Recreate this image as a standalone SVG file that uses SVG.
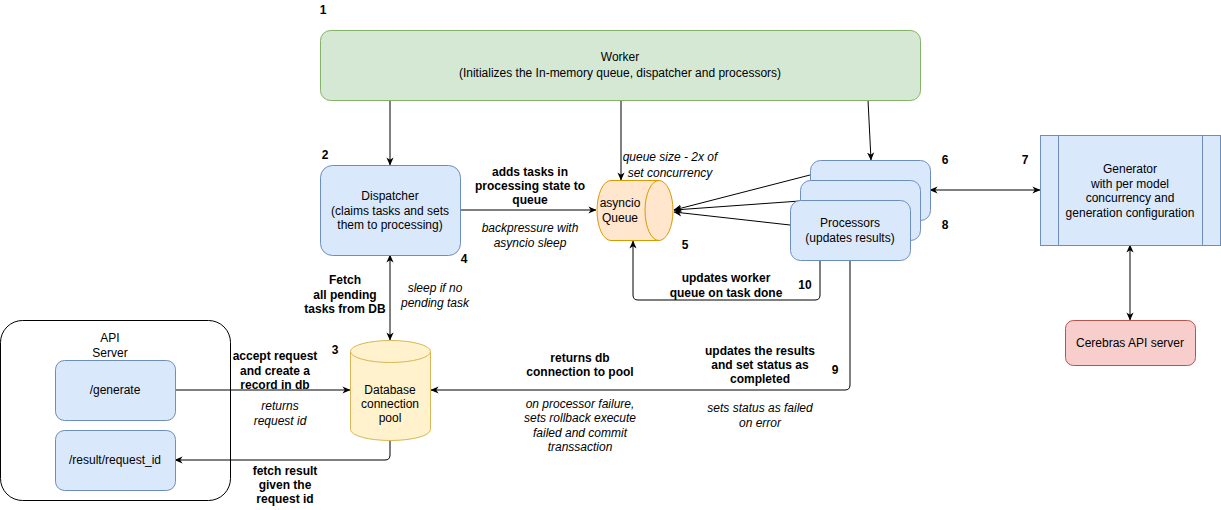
<svg xmlns="http://www.w3.org/2000/svg" width="1221" height="510" viewBox="0 0 1221 510">
<style>
text{font-family:"Liberation Sans",Arial,Helvetica,sans-serif;font-size:12px;fill:#000;text-anchor:middle}
.b{font-weight:bold}
.i{font-style:italic}
.num{font-weight:bold;font-size:12px}
.blue{fill:#dae8fc;stroke:#6c8ebf;stroke-width:1}
.green{fill:#d5e8d4;stroke:#82b366;stroke-width:1}
.orange{fill:#ffe6cc;stroke:#d79b00;stroke-width:1}
.yellow{fill:#fff2cc;stroke:#d6b656;stroke-width:1}
.red{fill:#f8cecc;stroke:#b85450;stroke-width:1}
.edge{fill:none;stroke:#000;stroke-width:1}
</style>
<defs>
<marker id="arr" viewBox="0 0 10 10" refX="9.5" refY="5" markerWidth="8" markerHeight="8" markerUnits="userSpaceOnUse" orient="auto-start-reverse">
<path d="M0,0.5 L10,5 L0,9.5 L3,5 Z" fill="#000"/>
</marker>
</defs>
<rect width="1221" height="510" fill="#fff"/>

<g id="api-server">
<rect x="0.5" y="320.5" width="230" height="180" rx="22" ry="22" fill="none" stroke="#000" stroke-width="1"/>
<text x="110" y="342">API</text>
<text x="110" y="357">Server</text>
</g>

<g id="connectors">
<path class="edge" d="M390,100 L390,165" marker-end="url(#arr)"/>
<path class="edge" d="M621,100 L621,180" marker-end="url(#arr)"/>
<path class="edge" d="M868,100 L871,160" marker-end="url(#arr)"/>
<path class="edge" d="M461,210 L596,210" marker-end="url(#arr)"/>
<path class="edge" d="M390,255 L390,340" marker-start="url(#arr)" marker-end="url(#arr)"/>
<path class="edge" d="M175,390 L350,390" marker-end="url(#arr)"/>
<path class="edge" d="M390,440 L390,455 Q390,460 385,460 L175,460" marker-end="url(#arr)"/>
<path class="edge" d="M810,175 L674,210" marker-end="url(#arr)"/>
<path class="edge" d="M800,201 L674,210" marker-end="url(#arr)"/>
<path class="edge" d="M790,225 L674,212" marker-end="url(#arr)"/>
<path class="edge" d="M930,190 L1040,190" marker-start="url(#arr)" marker-end="url(#arr)"/>
<path class="edge" d="M1130,245 L1130,320" marker-start="url(#arr)" marker-end="url(#arr)"/>
<path class="edge" d="M820,260 L820,295 Q820,300 815,300 L638,300 Q633,300 633,295 L633,241" marker-end="url(#arr)"/>
<path class="edge" d="M850,260 L850,385 Q850,390 845,390 L431,390" marker-end="url(#arr)"/>
</g>

<g id="worker">
<rect class="green" x="320.5" y="30.5" width="600" height="70" rx="10" ry="10"/>
<text x="620" y="61">Worker</text>
<text x="620" y="77">(Initializes the In-memory queue, dispatcher and processors)</text>
</g>

<g id="dispatcher">
<rect class="blue" x="320.5" y="165.5" width="140" height="90" rx="12" ry="12"/>
<text x="390" y="200">Dispatcher</text>
<text x="390" y="214.5">(claims tasks and sets</text>
<text x="390" y="229">them to processing)</text>
</g>

<g id="queue">
<path class="orange" d="M611,180.5 L659,180.5 A14,30 0 0 1 659,240.5 L611,240.5 A14,30 0 0 1 611,180.5 Z"/>
<path class="orange" d="M659,180.5 A14,30 0 0 0 659,240.5" fill="none"/>
<text x="620" y="207">asyncio</text>
<text x="620" y="222">Queue</text>
</g>

<g id="processors">
<rect class="blue" x="810.5" y="160.5" width="120" height="60" rx="10" ry="10"/>
<rect class="blue" x="800.5" y="180.5" width="120" height="60" rx="10" ry="10"/>
<rect class="blue" x="790.5" y="200.5" width="120" height="60" rx="10" ry="10"/>
<text x="850" y="227">Processors</text>
<text x="850" y="242">(updates results)</text>
</g>

<g id="generator">
<rect class="blue" x="1040.5" y="135.5" width="180" height="110"/>
<line class="blue" x1="1058.5" y1="135.5" x2="1058.5" y2="245.5"/>
<line class="blue" x1="1202.5" y1="135.5" x2="1202.5" y2="245.5"/>
<text x="1130" y="173">Generator</text>
<text x="1130" y="187.5">with per model</text>
<text x="1130" y="202">concurrency and</text>
<text x="1130" y="216.5">generation configuration</text>
</g>

<g id="cerebras">
<rect class="red" x="1065.5" y="320.5" width="130" height="45" rx="8" ry="8"/>
<text x="1130" y="347">Cerebras API server</text>
</g>

<g id="generate">
<rect class="blue" x="55.5" y="360.5" width="120" height="60" rx="9" ry="9"/>
<text x="115" y="394">/generate</text>
</g>

<g id="result">
<rect class="blue" x="55.5" y="430.5" width="120" height="60" rx="9" ry="9"/>
<text x="115" y="464">/result/request_id</text>
</g>

<g id="database">
<path class="yellow" d="M350.5,351.5 A40,11 0 0 1 430.5,351.5 L430.5,429.5 A40,11 0 0 1 350.5,429.5 Z"/>
<path class="yellow" d="M350.5,351.5 A40,11 0 0 0 430.5,351.5" fill="none"/>
<text x="390" y="394">Database</text>
<text x="390" y="408">connection</text>
<text x="390" y="422">pool</text>
</g>

<g id="labels">
<text class="num" x="323" y="14">1</text>
<text class="num" x="325" y="159">2</text>
<text class="num" x="335" y="354">3</text>
<text class="num" x="464" y="263">4</text>
<text class="num" x="685" y="249">5</text>
<text class="num" x="945" y="164">6</text>
<text class="num" x="1025" y="164">7</text>
<text class="num" x="945" y="229">8</text>
<text class="num" x="835" y="374">9</text>
<text class="num" x="805" y="289">10</text>

<text class="b" x="530" y="176">adds tasks in</text>
<text class="b" x="530" y="189.5">processing state to</text>
<text class="b" x="530" y="204">queue</text>
<text class="i" x="530" y="232">backpressure with</text>
<text class="i" x="530" y="247">asyncio sleep</text>

<text class="i" x="670" y="161">queue size - 2x of</text>
<text class="i" x="670" y="177">set concurrency</text>

<text class="b" x="726" y="282">updates worker</text>
<text class="b" x="726" y="297">queue on task done</text>

<text class="b" x="345" y="284">Fetch</text>
<text class="b" x="345" y="299">all pending</text>
<text class="b" x="345" y="313">tasks from DB</text>
<text class="i" x="435" y="292">sleep if no</text>
<text class="i" x="435" y="307">pending task</text>

<text class="b" x="275" y="360">accept request</text>
<text class="b" x="275" y="375">and create a</text>
<text class="b" x="275" y="389">record in db</text>
<text class="i" x="280" y="410">returns</text>
<text class="i" x="280" y="425">request id</text>

<text class="b" x="285" y="475">fetch result</text>
<text class="b" x="285" y="489">given the</text>
<text class="b" x="285" y="503">request id</text>

<text class="b" x="580" y="362">returns db</text>
<text class="b" x="580" y="376">connection to pool</text>
<text class="i" x="580" y="408">on processor failure,</text>
<text class="i" x="580" y="422">sets rollback execute</text>
<text class="i" x="580" y="437">failed and commit</text>
<text class="i" x="580" y="451">transsaction</text>

<text class="b" x="760" y="355">updates the results</text>
<text class="b" x="760" y="369">and set status as</text>
<text class="b" x="760" y="383">completed</text>
<text class="i" x="760" y="412">sets status as failed</text>
<text class="i" x="760" y="427">on error</text>
</g>
</svg>
